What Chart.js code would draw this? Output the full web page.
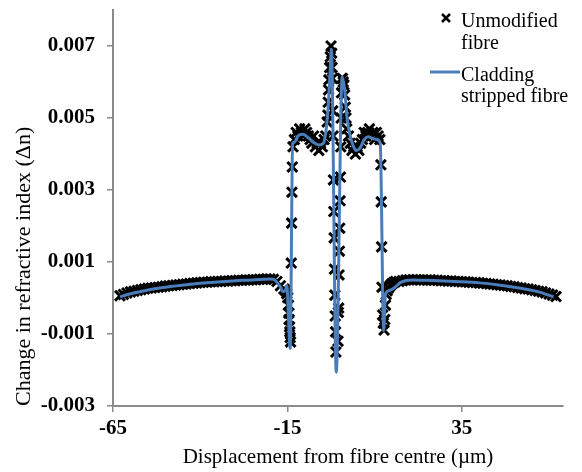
<!DOCTYPE html>
<html>
<head>
<meta charset="utf-8">
<script src="https://cdn.jsdelivr.net/npm/chart.js@4.4.0/dist/chart.umd.min.js"></script>
<style>
  body { margin: 0; background: #fff; }
</style>
</head>
<body>
<canvas id="profile" width="582" height="472"></canvas>
<script>
// unmodified fibre (markers)
const unmodifiedX = [
  -63, -62, -61, -60, -59, -58, -57, -56, -55, -54, -53, -52, -51, -50, -49, -48,
  -47, -46, -45, -44, -43, -42, -41, -40, -39, -38, -37, -36, -35, -34, -33, -32,
  -31, -30, -29, -28, -27, -26, -25, -24, -23, -22, -21, -20, -19, -18, -17, -16,
  -15.5, -15.2, -14.9, -14.7, -14.6, -14.5, -14.4, -14.3, -14.2, -14.1,
  -13.9, -13.8, -13.7, -13.6,
  -13.4, -13, -12.5, -12, -11.5, -11, -10.5, -10, -9.5, -9, -8.5, -8, -7.5, -7,
  -6.5, -6, -5.5, -5, -4.5, -4, -3.6, -3.4, -3.3, -3.2, -3.1, -2.9, -2.7, -2.5,
  -2.3, -2.2, -2.1, -2, -1.9, -1.8, -1.7, -1.6, -1.5, -1.4, -1.3, -1.2, -1.1,
  -0.5, -0.4, -0.3, -0.2, -0.1, 0, 0.1, 0.2, 0.3, 0.4, 0.5, 0.6, 0.8, 1, 1.2,
  1.4, 1.6, 1.8, 2, 2.5, 3, 3.5, 4, 4.5, 5, 5.5, 6, 6.5, 7, 7.5, 8, 8.5, 9, 9.5,
  10, 10.5, 11, 11.5,
  11.8, 11.9, 12, 12.1, 12.3, 12.5, 12.7, 12.9, 13.1, 13.3, 13.6, 14, 14.5, 15,
  15.5, 16,
  17, 18, 19, 20, 21, 22, 23, 24, 25, 26, 27, 28, 29, 30, 31, 32, 33, 34, 35, 36,
  37, 38, 39, 40, 41, 42, 43, 44, 45, 46, 47, 48, 49, 50, 51, 52, 53, 54, 55, 56,
  57, 58, 59, 60, 61, 62
];
const unmodifiedY = [
  0.00006, 0.00010, 0.00014, 0.00017, 0.00019, 0.00021, 0.00023, 0.00025, 0.00027, 0.00028, 0.00029, 0.00030, 0.00031, 0.00033, 0.00034, 0.00035,
  0.00036, 0.00037, 0.00038, 0.00039, 0.00040, 0.00041, 0.00042, 0.00043, 0.00044, 0.00044, 0.00045, 0.00045, 0.00046, 0.00046, 0.00047, 0.00047,
  0.00048, 0.00048, 0.00049, 0.00049, 0.00050, 0.00050, 0.00051, 0.00051, 0.00052, 0.00052, 0.00053, 0.00053, 0.00052, 0.00046, 0.00034, 0.00025,
  0.00020, 0.00012, 0.00001, -0.00020, -0.00042, -0.00060, -0.00080, -0.00094, -0.00110, -0.00122,
  0.00097, 0.00208, 0.00294, 0.00364,
  0.00420, 0.00440, 0.00460, 0.00450, 0.00470, 0.00460, 0.00450, 0.00470, 0.00460, 0.00450, 0.00440, 0.00430, 0.00450, 0.00420,
  0.00430, 0.00410, 0.00430, 0.00420, 0.00440, 0.00450, 0.00489, 0.00508, 0.00544, 0.00578, 0.00606, 0.00640, 0.00670, 0.00700,
  0.00680, 0.00640, 0.00610, 0.00520, 0.00450, 0.00328, 0.00240, 0.00167, 0.00080, 0.00008, -0.00050, -0.00094, -0.00150,
  -0.00120, -0.00040, -0.00028, 0.00064, 0.00130, 0.00194, 0.00270, 0.00336, 0.00420, 0.00500, 0.00570, 0.00610, 0.00610, 0.00600, 0.00592,
  0.00564, 0.00530, 0.00500, 0.00470, 0.00450, 0.00430, 0.00410, 0.00420, 0.00400, 0.00420, 0.00410, 0.00430, 0.00440, 0.00460, 0.00450, 0.00460, 0.00470, 0.00450, 0.00460,
  0.00440, 0.00460, 0.00450, 0.00440,
  0.00370, 0.00267, 0.00142, 0.00030, -0.00047, -0.00070, -0.00089, -0.00060, -0.00020, 0.00010, 0.00020, 0.00028, 0.00035, 0.00040,
  0.00043, 0.00046,
  0.00046, 0.00048, 0.00050, 0.00051, 0.00051, 0.00051, 0.00050, 0.00050, 0.00050, 0.00050, 0.00049, 0.00049, 0.00048, 0.00048, 0.00047, 0.00047, 0.00046, 0.00046, 0.00045, 0.00045,
  0.00044, 0.00043, 0.00043, 0.00042, 0.00041, 0.00040, 0.00039, 0.00038, 0.00037, 0.00036, 0.00035, 0.00034, 0.00032, 0.00031, 0.00029, 0.00028, 0.00026, 0.00025, 0.00023, 0.00021,
  0.00019, 0.00017, 0.00014, 0.00011, 0.00008, 0.00004
];

// cladding stripped fibre (line)
const strippedX = [
  -63, -61, -59, -57, -55, -52, -49, -46, -43, -40, -37, -34, -31, -28, -25,
  -22, -20, -19, -18, -17, -16.4, -15.6, -15.2, -14.2, -13.5,
  -13, -12, -10.5, -9, -7.5, -6, -4.7, -4, -3.4, -2.8, -2.4, -1, 0.7, 1.4, 2.1,
  3, 3.9, 4.7, 5.9, 7, 8.1, 9.6, 10.7, 11.6, 12.6, 13.1, 14, 15.6, 17.6, 20.7,
  25, 30, 35, 40, 45, 49, 53, 57, 61.3
];
const strippedY = [
  0.00003, 0.00009, 0.00014, 0.00018, 0.00022, 0.00027, 0.00031, 0.00035, 0.00038, 0.00041, 0.00043, 0.00045, 0.00047, 0.00049, 0.00050,
  0.00052, 0.00053, 0.00052, 0.00044, 0.00031, 0.00018, 0.00020, 0.00035, -0.00140, 0.00430,
  0.00433, 0.00450, 0.00455, 0.00445, 0.00432, 0.00425, 0.00430, 0.00460, 0.00520, 0.00620, 0.00690, -0.00206, 0.00614, 0.00580, 0.00500,
  0.00450, 0.00422, 0.00410, 0.00418, 0.00440, 0.00448, 0.00443, 0.00440, 0.00430, -0.00090, 0.00010, 0.00020, 0.00028, 0.00044, 0.00050,
  0.00049, 0.00047, 0.00045, 0.00042, 0.00037, 0.00031, 0.00025, 0.00017, 0.00003
];

const xTicks = [-65, -15, 35];
const yTicks = [-0.003, -0.001, 0.001, 0.003, 0.005, 0.007];

const serif = "'Liberation Serif', 'Times New Roman', serif";
const axisGrey = "#8a8a8a";
const blue = "#4A7EBB";

const toPoints = (xs, ys) => xs.map((x, i) => ({ x: x, y: ys[i] }));

// legend sits over the top right of the plot, text wraps on two lines
const legendBox = {
  id: "legendBox",
  afterDraw(chart) {
    const ctx = chart.ctx;
    ctx.save();
    ctx.strokeStyle = "#000";
    ctx.lineWidth = 2.5;
    ctx.beginPath();
    ctx.moveTo(442, 14); ctx.lineTo(450, 22);
    ctx.moveTo(450, 14); ctx.lineTo(442, 22);
    ctx.stroke();
    ctx.strokeStyle = blue;
    ctx.lineWidth = 3;
    ctx.beginPath();
    ctx.moveTo(430, 72); ctx.lineTo(460, 72);
    ctx.stroke();
    ctx.fillStyle = "#000";
    ctx.font = "20px " + serif;
    ctx.textBaseline = "alphabetic";
    ctx.fillText("Unmodified", 461, 27);
    ctx.fillText("fibre", 461, 49);
    ctx.fillText("Cladding", 461, 81);
    ctx.fillText("stripped fibre", 461, 102);
    ctx.restore();
  }
};

new Chart(document.getElementById("profile").getContext("2d"), {
  type: "scatter",
  data: {
    datasets: [
      {
        label: "Unmodified fibre",
        data: toPoints(unmodifiedX, unmodifiedY),
        showLine: false,
        pointStyle: "crossRot",
        pointRadius: 7,
        pointBorderWidth: 3,
        borderColor: "#000",
        backgroundColor: "#000",
        order: 2
      },
      {
        label: "Cladding stripped fibre",
        data: toPoints(strippedX, strippedY),
        showLine: true,
        borderColor: blue,
        borderWidth: 3,
        pointRadius: 0,
        cubicInterpolationMode: "monotone",
        order: 1
      }
    ]
  },
  options: {
    responsive: false,
    animation: false,
    layout: { padding: { left: 0, right: 19, top: 10, bottom: 0 } },
    plugins: { legend: { display: false }, tooltip: { enabled: false } },
    scales: {
      x: {
        type: "linear",
        min: -65,
        max: 64,
        afterBuildTicks: s => { s.ticks = xTicks.map(v => ({ value: v })); },
        afterFit: s => { s.height = 66; s.paddingLeft = 0; s.paddingRight = 0; },
        border: { display: true, color: axisGrey, width: 2 },
        grid: { drawOnChartArea: false, drawTicks: true, tickLength: 6, color: axisGrey, lineWidth: 1.5 },
        ticks: {
          padding: 4,
          maxRotation: 0,
          color: "#000",
          font: { family: serif, size: 21, weight: "bold" }
        },
        title: {
          display: true,
          text: "Displacement from fibre centre (\u00b5m)",
          color: "#000",
          font: { family: serif, size: 21 },
          padding: { top: 0, bottom: 2 }
        }
      },
      y: {
        type: "linear",
        min: -0.003,
        max: 0.008,
        afterBuildTicks: s => { s.ticks = yTicks.map(v => ({ value: v })); },
        afterFit: s => { s.width = 113; s.paddingTop = 0; s.paddingBottom = 0; },
        border: { display: true, color: axisGrey, width: 2 },
        grid: { drawOnChartArea: false, drawTicks: true, tickLength: 6, color: axisGrey, lineWidth: 1.5 },
        ticks: {
          padding: 12,
          color: "#000",
          font: { family: serif, size: 21, weight: "bold" },
          callback: v => v.toFixed(3)
        },
        title: {
          display: true,
          text: "Change in refractive index (\u0394n)",
          align: "start",
          color: "#000",
          font: { family: serif, size: 22 },
          padding: { top: 11, bottom: 0 }
        }
      }
    }
  },
  plugins: [legendBox]
});
</script>
</body>
</html>
